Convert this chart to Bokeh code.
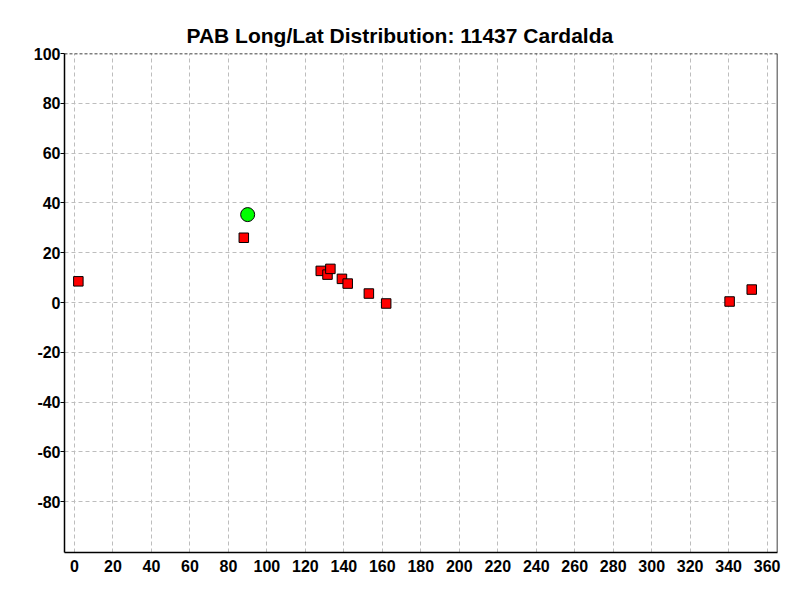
from bokeh.plotting import figure
from bokeh.models import FixedTicker, Span, Range1d, CustomJSTickFormatter
from bokeh.embed import file_html
from bokeh.resources import INLINE

title_text = "PAB Long/Lat Distribution: 11437 Cardalda"
red_x = [2, 88, 128, 131.5, 133, 139, 142, 153, 162, 340.5, 352]
red_y = [8.5, 26, 12.7, 11.2, 13.5, 9.5, 7.6, 3.6, -0.4, 0.4, 5.2]
green_x = [90]
green_y = [35.3]
x_ticks = list(range(0, 361, 20))
y_ticks = list(range(-80, 101, 20))

p = figure(width=784, height=584, output_backend="svg", toolbar_location=None,
           x_range=Range1d(-5.2, 365.4), y_range=Range1d(-100.4, 100),
           min_border_left=64, min_border_right=7, min_border_top=53, min_border_bottom=32)
p.title.text = title_text
p.title.align = "left"
p.title.offset = 122
p.title.standoff = 13
p.title.text_font = "Liberation Sans"
p.title.text_font_size = "21px"
p.title.text_font_style = "bold"
p.title.text_color = "black"
p.outline_line_color = None
p.background_fill_color = "white"

p.xaxis.ticker = FixedTicker(ticks=x_ticks)
p.yaxis.ticker = FixedTicker(ticks=y_ticks)
for ax in (p.xaxis, p.yaxis):
    ax.formatter = CustomJSTickFormatter(code="return String(tick);")
    ax.major_label_text_font = "Liberation Sans"
    ax.major_label_text_font_size = "16px"
    ax.major_label_text_font_style = "bold"
    ax.major_label_text_color = "black"
    ax.axis_line_color = "black"
    ax.axis_line_width = 1.5
    ax.major_tick_in = 0
    ax.minor_tick_line_color = None
p.yaxis.major_tick_out = 4
p.yaxis.major_label_standoff = 0
p.xaxis.major_tick_out = 0
p.xaxis.major_label_standoff = 7

p.xgrid.ticker = FixedTicker(ticks=x_ticks)
p.ygrid.ticker = FixedTicker(ticks=y_ticks)
for g in (p.xgrid, p.ygrid):
    g.grid_line_color = "#bdbdbd"
    g.grid_line_dash = "4 3"
    g.grid_line_width = 1

p.add_layout(Span(location=100, dimension="width", line_color="black", line_dash="3 2", line_width=1.5))
p.add_layout(Span(location=365.4, dimension="height", line_color="black", line_width=1.5))

p.scatter(red_x, red_y, marker="square", size=9.5, fill_color="#ff0000", line_color="black", line_width=1)
p.scatter(green_x, green_y, marker="circle", size=14, fill_color="#00ff00", line_color="black", line_width=1)

open("out.html", "w").write(file_html(p, INLINE))
